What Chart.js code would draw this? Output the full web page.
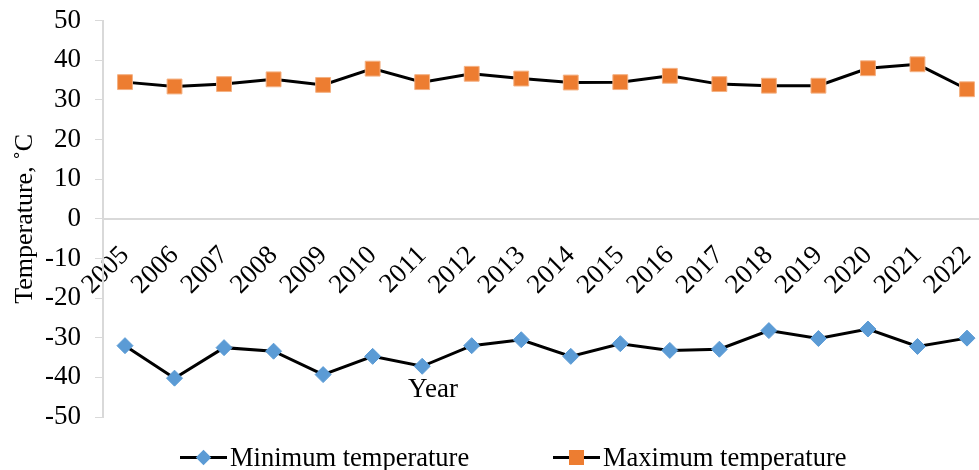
<!DOCTYPE html>
<html>
<head>
<meta charset="utf-8">
<script src="https://cdn.jsdelivr.net/npm/chart.js@4"></script>
<style>
  body { margin: 0; background: #fff; }
  #wrap { position: relative; width: 979px; height: 470px; }
  #legend { position: absolute; left: 0; top: 442px; width: 979px; height: 30px;
            font-family: "Liberation Serif", "Times New Roman", serif; font-size: 26.5px; color: #000; }
  .item { position: absolute; top: 0; display: flex; align-items: center; height: 30px; }
  .mark { position: relative; width: 47px; height: 30px; margin-right: 3px; }
  .mark .ln { position: absolute; left: 0; right: 0; top: 14px; height: 3px; background: #000; }
  .mark .pt { position: absolute; left: 16px; top: 8px; width: 15px; height: 15px; }
</style>
</head>
<body>
<div id="wrap">
  <canvas id="chart" width="979" height="470"></canvas>
  <div id="legend"></div>
</div>
<script>
// Data
const years = [2005, 2006, 2007, 2008, 2009, 2010, 2011, 2012, 2013, 2014, 2015, 2016, 2017, 2018, 2019, 2020, 2021, 2022];
const minTemp = [-32.0, -40.2, -32.5, -33.4, -39.3, -34.7, -37.2, -32.0, -30.5, -34.7, -31.5, -33.2, -32.9, -28.2, -30.2, -27.8, -32.2, -30.1];
const maxTemp = [34.5, 33.4, 34.0, 35.2, 33.8, 37.9, 34.5, 36.6, 35.4, 34.4, 34.5, 36.1, 34.0, 33.6, 33.6, 38.0, 39.0, 32.7];
const seriesNames = ['Minimum temperature', 'Maximum temperature'];

const font = "'Liberation Serif', 'Times New Roman', serif";
const blue = '#5B9BD5';
const orange = '#ED7D31';
const axisGrey = '#D9D9D9';

// "Year" sits inside the plot, as in the original
const yearLabel = {
	id: 'yearLabel',
	afterDraw(chart) {
		const ctx = chart.ctx;
		ctx.save();
		ctx.font = '27px ' + font;
		ctx.fillStyle = '#000';
		ctx.textAlign = 'center';
		ctx.textBaseline = 'middle';
		ctx.fillText('Year', 433, 390);
		ctx.restore();
	}
};

// frame is fixed, no extra room for overflowing tick labels
const noPad = scale => {
	scale.paddingTop = 0;
	scale.paddingBottom = 0;
	scale.paddingLeft = 0;
	scale.paddingRight = 0;
};

const chart = new Chart(document.getElementById('chart').getContext('2d'), {
	type: 'line',
	data: {
		datasets: [
			{
				label: seriesNames[0],
				data: years.map((y, i) => ({ x: y, y: minTemp[i] })),
				borderColor: '#000',
				borderWidth: 3,
				pointStyle: 'rectRot',
				pointRadius: 8,
				pointBackgroundColor: blue,
				pointBorderColor: blue,
				pointBorderWidth: 1,
				tension: 0,
				clip: false
			},
			{
				label: seriesNames[1],
				data: years.map((y, i) => ({ x: y, y: maxTemp[i] })),
				borderColor: '#000',
				borderWidth: 3,
				pointStyle: 'rect',
				pointRadius: 10.5,
				pointBackgroundColor: orange,
				pointBorderColor: '#F4B183',
				pointBorderWidth: 1,
				tension: 0,
				clip: false
			}
		]
	},
	options: {
		responsive: false,
		animation: false,
		layout: { autoPadding: false, padding: { top: 20.7, bottom: 53, right: 0, left: 0 } },
		plugins: {
			legend: { display: false },
			tooltip: { enabled: false }
		},
		scales: {
			x: {
				type: 'linear',
				position: { y: 0 },
				min: 2004.556,
				max: 2022.242,
				afterBuildTicks: scale => { scale.ticks = years.map(v => ({ value: v })); },
				afterFit: noPad,
				grid: { display: false, drawTicks: false },
				border: { display: true, color: axisGrey, width: 2 },
				ticks: {
					minRotation: 45,
					maxRotation: 45,
					padding: 21,
					color: '#000',
					font: { family: font, size: 27 },
					callback: v => String(v)
				}
			},
			y: {
				min: -50,
				max: 50,
				afterFit: scale => { scale.width = 103; noPad(scale); },
				grid: { drawOnChartArea: false, color: axisGrey, tickLength: 8 },
				border: { display: true, color: axisGrey, width: 2 },
				ticks: {
					stepSize: 10,
					padding: 14,
					color: '#000',
					font: { family: font, size: 27 }
				},
				title: {
					display: true,
					text: 'Temperature, ˚C',
					color: '#000',
					font: { family: font, size: 26 },
					padding: { top: 10, bottom: 0 }
				}
			}
		}
	},
	plugins: [yearLabel]
});

// Legend: line with the marker in the middle, like the spreadsheet legend
const legendEl = document.getElementById('legend');
const legendPos = [180, 553];
chart.data.datasets.forEach((ds, i) => {
	const item = document.createElement('div');
	item.className = 'item';
	item.style.left = legendPos[i] + 'px';
	const mark = document.createElement('div');
	mark.className = 'mark';
	const ln = document.createElement('div');
	ln.className = 'ln';
	const pt = document.createElement('div');
	pt.className = 'pt';
	pt.style.background = ds.pointBackgroundColor;
	if (ds.pointStyle === 'rectRot') {
		pt.style.width = '11px';
		pt.style.height = '11px';
		pt.style.left = '18px';
		pt.style.top = '10px';
		pt.style.transform = 'rotate(45deg)';
	}
	mark.appendChild(ln);
	mark.appendChild(pt);
	const txt = document.createElement('span');
	txt.textContent = ds.label;
	item.appendChild(mark);
	item.appendChild(txt);
	legendEl.appendChild(item);
});
</script>
</body>
</html>
